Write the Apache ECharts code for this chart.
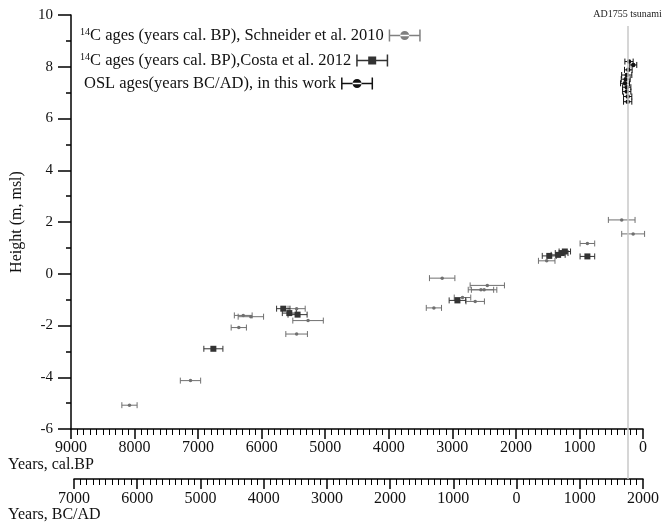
<!DOCTYPE html>
<html>
<head>
<meta charset="utf-8">
<script src="https://cdn.jsdelivr.net/npm/echarts@6/dist/echarts.min.js"></script>
<style>
  html, body { margin: 0; padding: 0; background: #fff; }
  #chart { width: 662px; height: 528px; }
</style>
</head>
<body>
<div id="chart"></div>
<script>
// 14C ages, Schneider et al. 2010 (years cal. BP)
const schneiderBP = [8080, 7120, 6360, 6290, 6170, 5450, 5270, 5450, 3160, 2450, 2550, 2500, 2840, 2640, 3290, 1515, 875, 335, 155];
const schneiderH = [-5.08, -4.13, -2.08, -1.61, -1.66, -1.35, -1.81, -2.33, -0.17, -0.45, -0.62, -0.62, -0.92, -1.07, -1.32, 0.5, 1.17, 2.08, 1.54];
const schneiderErr = [120, 160, 120, 140, 200, 135, 240, 170, 200, 270, 200, 200, 130, 145, 120, 130, 115, 210, 180];

// 14C ages, Costa et al. 2012 (years cal. BP)
const costaBP = [6760, 5660, 5565, 5435, 2920, 1475, 1335, 1280, 1230, 875];
const costaH = [-2.9, -1.35, -1.52, -1.58, -1.03, 0.69, 0.73, 0.8, 0.86, 0.67];
const costaErr = [150, 105, 110, 150, 130, 110, 110, 100, 90, 115];

// OSL ages, this work (years AD)
const oslAD = [1730, 1797, 1719, 1694, 1678, 1667, 1694, 1694, 1709, 1709];
const oslH = [8.2, 8.07, 7.88, 7.68, 7.52, 7.36, 7.21, 7.04, 6.85, 6.65];
const oslErr = [65, 55, 60, 80, 70, 70, 65, 65, 65, 65];

const tsunamiAD = 1755;
const bpTicks = [9000, 8000, 7000, 6000, 5000, 4000, 3000, 2000, 1000, 0];
const adTicks = [-7000, -6000, -5000, -4000, -3000, -2000, -1000, 0, 1000, 2000];

const serif = "'Liberation Serif', 'Times New Roman', serif";

function toRows(xs, hs, errs) {
  return xs.map((x, i) => [x, hs[i], x - errs[i], x + errs[i]]);
}

const oslBP = oslAD.map(a => 1950 - a);

function errorBar(color, marker, size) {
  return function (params, api) {
    const h = api.value(1);
    const p = api.coord([api.value(0), h]);
    const a = api.coord([api.value(2), h]);
    const b = api.coord([api.value(3), h]);
    const cap = 3;
    const ls = { stroke: color, lineWidth: 1 };
    const kids = [
      { type: 'line', shape: { x1: a[0], y1: a[1], x2: b[0], y2: b[1] }, style: ls },
      { type: 'line', shape: { x1: a[0], y1: a[1] - cap, x2: a[0], y2: a[1] + cap }, style: ls },
      { type: 'line', shape: { x1: b[0], y1: b[1] - cap, x2: b[0], y2: b[1] + cap }, style: ls }
    ];
    if (marker === 'square') {
      kids.push({ type: 'rect', shape: { x: p[0] - size / 2, y: p[1] - size / 2, width: size, height: size }, style: { fill: color } });
    } else {
      kids.push({ type: 'circle', shape: { cx: p[0], cy: p[1], r: size / 2 }, style: { fill: color } });
    }
    return { type: 'group', children: kids };
  };
}

const circleIcon = 'path://M0,0h1.5v12h-1.5zM30.5,0h1.5v12h-1.5zM0,5.25h32v1.5h-32zM11.5,6a4.5,4.5 0 1,0 9,0a4.5,4.5 0 1,0 -9,0z';
const squareIcon = 'path://M0,0h1.5v12h-1.5zM30.5,0h1.5v12h-1.5zM0,5.25h32v1.5h-32zM12,2h8v8h-8z';

const names = [
  '14C ages (years cal. BP), Schneider et al. 2010',
  '14C ages (years cal. BP),Costa et al. 2012',
  'OSL ages(years BC/AD), in this work'
];
const icons = [circleIcon, squareIcon, circleIcon];
const legendTops = [27, 52, 75];
const legendLefts = [80, 80, 84];

function makeLegend(i) {
  return {
    left: legendLefts[i],
    top: legendTops[i],
    padding: 0,
    align: 'right',
    itemWidth: 32,
    itemHeight: 12,
    itemGap: 5,
    data: [{ name: names[i], icon: icons[i] }],
    formatter: function (n) {
      return n.indexOf('14C') === 0 ? '{sup|14}' + n.slice(2) : n;
    },
    textStyle: {
      fontFamily: serif,
      fontSize: 16.5,
      color: '#111',
      rich: {
        sup: { fontSize: 10, fontFamily: serif, verticalAlign: 'top', color: '#111' }
      }
    }
  };
}

const chart = echarts.init(document.getElementById('chart'));

chart.setOption({
  animation: false,
  textStyle: { fontFamily: serif },
  grid: [
    { left: 71, right: 19, top: 15, bottom: 99 },
    { left: 74, right: 16, top: 26, bottom: 49 }
  ],
  legend: [makeLegend(0), makeLegend(1), makeLegend(2)],
  xAxis: [
    {
      type: 'value', gridIndex: 0, min: 0, max: 9000, interval: 1000, inverse: true,
      axisLine: { onZero: false, lineStyle: { color: '#000', width: 1.5 } },
      axisTick: { length: 10, lineStyle: { color: '#000', width: 1.5 } },
      minorTick: { show: true, splitNumber: 10, length: 6, lineStyle: { color: '#000', width: 1 } },
      axisLabel: { fontSize: 16, color: '#111', margin: 11, fontFamily: serif,
        customValues: bpTicks, formatter: v => String(v) },
      splitLine: { show: false }
    },
    {
      type: 'value', gridIndex: 1, min: -7000, max: 2000, interval: 1000,
      axisLine: { onZero: false, lineStyle: { color: '#000', width: 1.5 } },
      axisTick: { length: 10, lineStyle: { color: '#000', width: 1.5 } },
      minorTick: { show: true, splitNumber: 10, length: 6, lineStyle: { color: '#000', width: 1 } },
      axisLabel: { fontSize: 16, color: '#111', margin: 12, fontFamily: serif,
        customValues: adTicks, formatter: v => String(Math.abs(v)) },
      splitLine: { show: false }
    }
  ],
  yAxis: [
    {
      type: 'value', gridIndex: 0, min: -6, max: 10, interval: 2,
      name: 'Height (m, msl)', nameLocation: 'middle', nameGap: 46,
      nameTextStyle: { fontSize: 16, color: '#111', fontFamily: serif },
      axisLine: { show: true, onZero: false, lineStyle: { color: '#000', width: 1.5 } },
      axisTick: { show: true, length: 13, lineStyle: { color: '#000', width: 1.5 } },
      minorTick: { show: true, splitNumber: 2, length: 5, lineStyle: { color: '#000', width: 1.5 } },
      axisLabel: { fontSize: 15, color: '#111', margin: 18, fontFamily: serif },
      splitLine: { show: false }
    },
    { type: 'value', gridIndex: 1, min: 0, max: 1, show: false }
  ],
  graphic: [
    { type: 'text', left: 8, top: 457, style: { text: 'Years, cal.BP', font: '16px ' + serif, fill: '#111' } },
    { type: 'text', left: 8, top: 507, style: { text: 'Years, BC/AD', font: '16px ' + serif, fill: '#111' } }
  ],
  series: [
    {
      name: 'tsunami', type: 'line', xAxisIndex: 1, yAxisIndex: 1, data: [],
      markLine: {
        silent: true, symbol: 'none',
        lineStyle: { color: '#c8c8c8', width: 1.5, type: 'solid' },
        label: { show: true, position: 'end', formatter: 'AD1755 tsunami', fontSize: 10, color: '#222', fontFamily: serif, distance: 7 },
        data: [{ xAxis: tsunamiAD }]
      }
    },
    {
      name: names[0], type: 'custom', xAxisIndex: 0, yAxisIndex: 0,
      itemStyle: { color: '#808080' },
      renderItem: errorBar('#707070', 'circle', 3.5),
      encode: { x: [0, 2, 3], y: 1 },
      data: toRows(schneiderBP, schneiderH, schneiderErr)
    },
    {
      name: names[1], type: 'custom', xAxisIndex: 0, yAxisIndex: 0,
      itemStyle: { color: '#333' },
      renderItem: errorBar('#333', 'square', 6),
      encode: { x: [0, 2, 3], y: 1 },
      data: toRows(costaBP, costaH, costaErr)
    },
    {
      name: names[2], type: 'custom', xAxisIndex: 0, yAxisIndex: 0,
      itemStyle: { color: '#111' },
      renderItem: errorBar('#111', 'circle', 4.5),
      encode: { x: [0, 2, 3], y: 1 },
      data: toRows(oslBP, oslH, oslErr)
    }
  ]
});
</script>
</body>
</html>
